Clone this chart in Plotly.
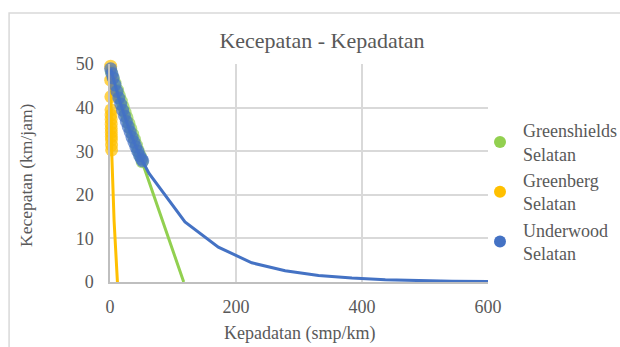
import plotly.graph_objects as go

# Greenshields model (Selatan): observed densities with model speeds, then jam-density end point
gs_k = [2, 5, 8, 12, 15, 18, 21, 24, 27, 30, 33, 36, 39, 42, 45, 48, 51, 117]
gs_v = [48.2, 46.9, 45.6, 44.0, 42.7, 41.5, 40.2, 38.9, 37.7, 36.4, 35.2, 33.9, 32.7, 31.4, 30.1, 28.9, 27.6, 0]
gs_marked = 17

# Greenberg model (Selatan)
gb_k = [1.0, 1.15, 1.4, 1.6, 1.7, 1.8, 1.9, 2.0, 2.1, 2.2, 2.3, 2.45, 2.6, 6.5, 11.8]
gb_v = [49.5, 46.3, 42.5, 39.5, 38.3, 37.3, 36.2, 35.2, 34.3, 33.4, 32.6, 31.4, 30.3, 14.0, 0]
gb_marked = 13

# Underwood model (Selatan)
uw_k = [1, 3, 5, 8, 11, 14, 17, 20, 23, 26, 29, 32, 35, 38, 41, 44, 47, 50, 52,
        62, 119, 172, 225, 278, 331, 384, 437, 490, 543, 600]
uw_v = [48.9, 47.8, 46.8, 45.2, 43.7, 42.2, 40.8, 39.4, 38.1, 36.8, 35.6, 34.4, 33.2, 32.1,
        31.0, 30.0, 29.0, 28.2, 27.8,
        24.9, 13.8, 8.0, 4.4, 2.6, 1.5, 0.9, 0.5, 0.3, 0.17, 0.1]
uw_marked = 19

names = ["Greenshields<br>Selatan", "Greenberg<br>Selatan", "Underwood<br>Selatan"]
colors = ["#92d050", "#ffc000", "#4472c4"]

FONT = "Times New Roman"
GREY = "#595959"

fig = go.Figure()

series = [(gs_k, gs_v, gs_marked), (gb_k, gb_v, gb_marked), (uw_k, uw_v, uw_marked)]
for (k, v, n), name, c in zip(series, names, colors):
    sizes = [13] * n + [0] * (len(k) - n)
    fig.add_trace(go.Scatter(
        x=k, y=v, mode="lines+markers", name=name, showlegend=False,
        line=dict(color=c, width=3),
        marker=dict(color=c, size=sizes, line=dict(width=0)),
        cliponaxis=False,
    ))

# legend entries show the marker only
for name, c in zip(names, colors):
    fig.add_trace(go.Scatter(
        x=[None], y=[None], mode="markers", name=name,
        marker=dict(color=c, size=12),
    ))

fig.update_layout(
    width=620, height=347,
    margin=dict(l=110, r=132, t=64, b=65, autoexpand=False),
    paper_bgcolor="white", plot_bgcolor="white",
    font=dict(family=FONT, color=GREY, size=18),
    title=dict(text="Kecepatan - Kepadatan", x=322 / 620, xanchor="center",
               y=1 - 40 / 347, yanchor="middle", font=dict(size=22, color=GREY, family=FONT)),
    legend=dict(xref="container", yref="container", x=477 / 620, y=1 - 112 / 347,
                xanchor="left", yanchor="top",
                font=dict(size=18, color=GREY, family=FONT),
                tracegroupgap=0, itemwidth=36, bgcolor="rgba(0,0,0,0)"),
    shapes=[dict(type="rect", xref="paper", yref="paper",
                 x0=-0.267, y0=1.234, x1=1.6, y1=-0.6,
                 line=dict(color="#d9d9d9", width=1.5), layer="below")],
    annotations=[
        dict(text="Kepadatan (smp/km)", xref="paper", yref="paper",
             x=0.5, y=-(333 - 282) / 218, xanchor="center", yanchor="middle",
             showarrow=False, font=dict(family=FONT, size=18, color=GREY)),
        dict(text="Kecepatan (km/jam)", xref="paper", yref="paper",
             x=(26 - 110) / 378, y=(282 - 175) / 218, xanchor="center", yanchor="middle",
             textangle=-90, showarrow=False, font=dict(family=FONT, size=17.5, color=GREY)),
    ],
)

fig.update_xaxes(range=[0, 600], tickvals=[0, 200, 400, 600],
                 showgrid=True, gridcolor="#d9d9d9", gridwidth=1.5,
                 showline=True, linecolor="#bfbfbf", linewidth=1.5,
                 zeroline=False, ticks="", ticklabelstandoff=8, automargin=False,
                 tickfont=dict(family=FONT, size=18, color=GREY))
fig.update_yaxes(range=[0, 50], tickvals=[0, 10, 20, 30, 40, 50],
                 showgrid=True, gridcolor="#d9d9d9", gridwidth=1.5,
                 showline=True, linecolor="#bfbfbf", linewidth=1.5,
                 zeroline=False, ticks="", ticklabelstandoff=11, automargin=False,
                 tickfont=dict(family=FONT, size=18, color=GREY))

fig.write_html("out.html")
